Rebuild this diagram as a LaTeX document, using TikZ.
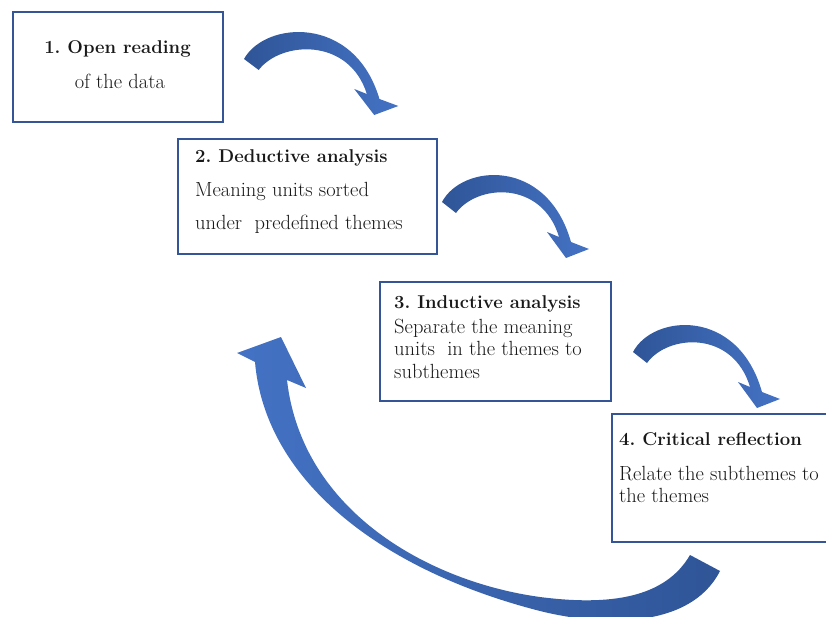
\documentclass[tikz,border=0pt]{standalone}
\usepackage{tikz}
\usepackage{xcolor}
\usetikzlibrary{positioning}

\definecolor{boxblue}{RGB}{52,86,150}
\definecolor{arrowlight}{RGB}{68,114,196}
\definecolor{arrowdark}{RGB}{47,85,151}

\frenchspacing

\tikzset{
  stagebox/.style={draw=boxblue, line width=1.6pt, fill=white, inner sep=0pt, outer sep=0pt, anchor=north west},
  stagetext/.style={inner sep=0pt, anchor=base west, text=black!90, font=\fontsize{20.5}{24}\selectfont},
  stagehead/.style={stagetext, font=\fontsize{18.5}{22}\selectfont\bfseries},
  bentarrow/.pic={
    \shade[left color=arrowdark, right color=arrowlight]
      (0,0) .. controls (20,-38) and (105,-45) .. (129,40) -- (147,47) -- (124,56) -- (105,30) -- (117,35)
      .. controls (100,-22) and (35,-18) .. (14,11) -- cycle;
  }
}

\begin{document}
\begin{tikzpicture}[x=1pt, y=-1pt]
  \useasboundingbox (0,0) rectangle (826,617);

  % the four stages
  \node[stagebox, minimum width=210, minimum height=110] (open) at (13,12) {};
  \node[stagebox, line width=2.6pt, minimum width=259, minimum height=115] (deduct) at (178,139) {};
  \node[stagebox, minimum width=231, minimum height=119] (induct) at (380,282) {};
  \node[stagebox, minimum width=218, minimum height=128] (reflect) at (612,414) {};

  \node[stagehead, anchor=base] (t1a) at (117.5,54) {1. Open reading};
  \node[stagetext, anchor=base] (t1b) at (120,89) {of the data};

  \node[stagehead] (t2a) at (195,163) {2. Deductive analysis};
  \node[stagetext] (t2b) at (195,197) {Meaning units sorted};
  \node[stagetext] (t2c) at (195,230) {under~ predefined themes};

  \node[stagehead] (t3a) at (394,308) {3. Inductive analysis};
  \node[stagetext] (t3b) at (394,333) {Separate the meaning};
  \node[stagetext] (t3c) at (394,355) {units~ in the themes to};
  \node[stagetext] (t3d) at (394,378) {subthemes};

  \node[stagehead] (t4a) at (619,445) {4. Critical reflection};
  \node[stagetext] (t4b) at (619,480) {Relate the subthemes to};
  \node[stagetext] (t4c) at (619,502) {the themes};

  % bent arrows between stages
  \pic[xscale=1.05] at (244,59) {bentarrow};
  \pic at (442,202) {bentarrow};
  \pic at (633,352) {bentarrow};

  % return arrow
  \shade[left color=arrowlight, right color=arrowdark]
    (720,571) -- (690,555)
    .. controls (665,598) and (610,606) .. (540,597)
    .. controls (430,582) and (302,512) .. (287,380)
    -- (306,388) -- (281,337) -- (237,353) -- (255,362)
    .. controls (265,480) and (380,570) .. (540,611)
    .. controls (600,626) and (690,630) .. cycle;
\end{tikzpicture}
\end{document}
